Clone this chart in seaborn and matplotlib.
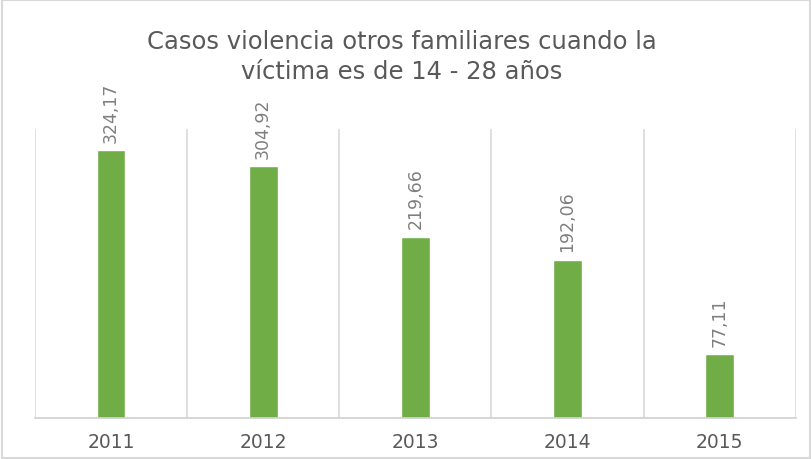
import matplotlib
matplotlib.use("Agg")
import matplotlib.pyplot as plt
import pandas as pd
import seaborn as sns

years = ["2011", "2012", "2013", "2014", "2015"]
cases = [324.17, 304.92, 219.66, 192.06, 77.11]
value_labels = ["324,17", "304,92", "219,66", "192,06", "77,11"]
title = "Casos violencia otros familiares cuando la\nvíctima es de 14 - 28 años"

df = pd.DataFrame({"anio": years, "casos": cases})

sns.set_style("white")
plt.rcParams["font.family"] = ["DejaVu Sans"]

fig = plt.figure(figsize=(8.12, 4.6), dpi=100)
ax = fig.add_axes([0.043, 0.089, 0.937, 0.628])

sns.barplot(data=df, x="anio", y="casos", color="#70AD47", saturation=1,
            width=0.19, ax=ax)

ax.set_xlim(-0.5, len(years) - 0.5)
ax.set_ylim(0, 350)
ax.set_yticks([])
ax.set_xlabel("")
ax.set_ylabel("")

# lineas verticales entre categorias
ax.set_xticks([i - 0.5 for i in range(len(years) + 1)], minor=True)
ax.grid(True, which="minor", axis="x", color="#D9D9D9", linewidth=1.2)
ax.set_axisbelow(True)
ax.tick_params(axis="x", which="both", length=0, pad=10, labelsize=13.5, colors="#595959")

for side in ["top", "left", "right"]:
    ax.spines[side].set_visible(False)
ax.spines["bottom"].set_color("#D0D0D0")
ax.spines["bottom"].set_linewidth(1.2)

for i, (v, lab) in enumerate(zip(cases, value_labels)):
    ax.annotate(lab, (i, v), xytext=(0, 6), textcoords="offset points",
                rotation=90, ha="center", va="bottom", fontsize=12.5,
                color="#7F7F7F")

fig.text(0.495, 0.935, title, ha="center", va="top", fontsize=17.5,
         color="#595959", linespacing=1.3)

# borde del grafico
fig.patches.append(plt.Rectangle((0.002, 0.003), 0.996, 0.994, transform=fig.transFigure,
                                 fill=False, edgecolor="#D9D9D9", linewidth=1.5))

fig.savefig("out.png", dpi=100, facecolor="white")
